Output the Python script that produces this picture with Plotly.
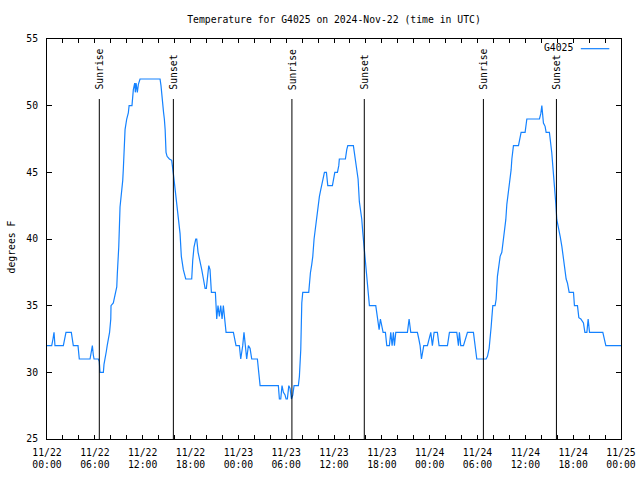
import pandas as pd
import plotly.graph_objects as go

# ---- data (hours after 2024-11-22 00:00 UTC, temperature in F) ----
hours = [0.00,0.59,0.75,0.88,1.0,2.05,2.38,3.05,3.15,3.3,3.89,4.05,5.4,5.55,5.69,5.81,5.9,6.44,6.56,6.65,7.07,7.15,7.3,7.45,7.55,7.7,7.85,8.0,8.03,8.32,8.53,8.75,8.82,9.0,9.16,9.37,9.5,9.58,9.65,9.79,10.0,10.2,10.3,10.66,10.83,11.0,11.08,11.17,11.33,11.46,11.67,14.18,14.3,14.39,14.51,14.62,14.72,14.82,14.93,15.06,15.35,15.64,15.85,15.94,16.06,16.27,16.48,16.69,16.85,17.1,17.4,18.15,18.28,18.44,18.66,18.78,18.95,19.2,19.41,19.62,19.83,19.99,20.12,20.29,20.45,20.62,21.12,21.29,21.45,21.62,21.79,21.96,22.12,22.33,22.46,23.38,23.59,23.71,24.13,24.3,24.55,24.71,24.88,25.05,25.26,25.47,25.68,26.39,26.56,26.73,29.02,29.15,29.32,29.48,29.65,29.86,29.99,30.15,30.33,30.49,30.66,30.83,30.99,31.53,31.66,31.83,31.96,32.08,32.83,32.91,33.04,33.21,33.34,33.5,33.63,33.84,34.04,34.17,34.34,34.5,34.67,34.8,35.05,35.22,35.8,35.97,36.1,36.43,36.6,36.67,37.43,37.6,37.73,38.43,38.64,38.85,39.02,39.18,39.36,39.48,39.61,39.74,39.86,40.02,40.19,40.36,40.44,41.24,41.36,41.53,41.66,41.82,42.0,42.16,42.45,42.62,42.95,43.12,43.29,43.45,43.58,43.75,45.21,45.42,45.63,46.46,46.64,46.8,46.97,47.14,47.26,47.72,47.93,48.14,48.34,48.56,48.97,49.18,50.23,50.48,51.4,51.61,51.73,51.9,52.24,52.54,52.74,53.49,53.7,53.91,55.08,55.25,55.46,55.58,55.71,55.8,55.92,56.21,56.34,56.5,56.71,56.84,57.05,57.25,57.38,57.55,57.68,57.8,57.97,58.09,58.22,58.31,58.43,58.51,59.14,59.31,59.47,59.97,60.19,61.77,61.94,62.07,62.15,62.27,62.48,62.61,63.02,63.2,63.32,63.45,63.61,63.74,63.83,63.95,64.15,64.37,64.58,64.78,64.99,65.12,65.28,65.5,66.04,66.16,66.54,66.71,66.96,67.29,67.47,67.72,67.88,68.05,69.72,69.89,70.1,72.0]
temps = [32,32,32.5,33,32,32,33,33,32.6,32,32,31,31,31.6,32,31.3,31,31,30.8,30,30,30.6,31,31.6,32,32.5,33,34,35,35.2,35.7,36.4,37.4,39.4,42.4,43.4,44.4,45.3,46.7,48.2,49,49.45,50,50,51.2,51.7,51,51.7,51,51.6,52,52,51.5,50.7,50.3,49.5,49,48.2,46.5,46.2,46,45.9,44.9,44.4,43.7,42.7,41.4,40.4,38.7,37.7,37,37,38.4,39.4,40,40,39,38.4,37.7,37,36.3,36.3,37,38,37.7,36,36,34,35,34.2,35,34,35,34,33,33,32.5,32,32,31,32,33,32,31,32,31.8,31,31,30,29,29,28,28,29,28.5,28.3,28,28,29,28.8,28,28.3,29,29,29.7,31.7,35.2,36,36,36.6,37.45,38.1,38.7,40,40.7,41.7,42.45,43.2,43.7,44.2,44.7,45,45,44,44,44.7,45,45,45.5,46,46,46.7,47,47,46.2,45.2,44.5,42.8,42.2,41.5,40.5,39.6,38.5,37.7,36.4,35.4,35,35,34.4,33.7,33.2,34,33.4,33,33,32,32,33,32,33,32,33,33,34,33,33,32.5,32,31,31.7,32,32,32.5,33,32,33,33,32,32,33,33,32,33,32,32,32.7,33,33,32,31,31,31.2,31.8,32.4,33.4,34.1,35,35,35.5,37.2,38,38.7,39,40,40.7,41.45,42.6,43.2,43.7,44.45,45.2,46,46.7,47,47,47.4,48,48,49,49,49.4,50,49.2,48.7,48.45,48,48,47.2,46.45,45.45,44.45,43.7,42.6,41.45,40.95,40.2,39.45,38.45,37.6,37,36.7,36,36,35,35,34.1,34,33.7,33,33,34,33,33,32.5,32,32]

sunrise_hours = [6.56, 30.72, 54.74]
sunset_hours = [15.85, 39.8, 63.9]

series_name = "G4025"
title_text = "Temperature for G4025 on 2024-Nov-22 (time in UTC)"
y_label = "degrees F"
start = pd.Timestamp("2024-11-22 00:00")
end = pd.Timestamp("2024-11-25 00:00")

times = [start + pd.Timedelta(hours=h) for h in hours]

FONT = "DejaVu Sans Mono"
FS = 9.75
LINE_COLOR = "#1482ff"

fig = go.Figure()
fig.add_trace(go.Scatter(x=times, y=temps, mode="lines", name=series_name,
                         line=dict(color=LINE_COLOR, width=1.2), showlegend=False,
                         hoverinfo="skip"))

shapes = []
annotations = []
for label, hrs in (("Sunrise", sunrise_hours), ("Sunset", sunset_hours)):
    for h in hrs:
        t = start + pd.Timedelta(hours=h)
        shapes.append(dict(type="line", xref="x", yref="paper", x0=t, x1=t, y0=0, y1=0.85,
                           line=dict(color="black", width=1)))
        annotations.append(dict(text=label, xref="x", yref="paper", x=t, y=0.868,
                                xanchor="center", yanchor="bottom", textangle=-90,
                                showarrow=False, font=dict(family=FONT, size=FS, color="black")))

# legend (text on the left, sample line on the right, as in the reference)
annotations.append(dict(text=series_name, xref="paper", yref="paper", x=0.92, y=0.979,
                        xanchor="right", yanchor="middle", showarrow=False,
                        font=dict(family=FONT, size=FS, color="black")))
shapes.append(dict(type="line", xref="paper", yref="paper", x0=0.930, x1=0.9796,
                   y0=0.9758, y1=0.9758, line=dict(color=LINE_COLOR, width=1.2)))

# y axis title
annotations.append(dict(text=y_label, xref="paper", yref="paper", x=-0.062, y=0.48,
                        xanchor="center", yanchor="middle", textangle=-90, showarrow=False,
                        font=dict(family=FONT, size=FS, color="black")))

fig.update_layout(
    width=640, height=480,
    margin=dict(l=47, r=19, t=39, b=41, autoexpand=False),
    paper_bgcolor="white", plot_bgcolor="white",
    font=dict(family=FONT, size=FS, color="black"),
    title=dict(text=title_text, x=(47 + 621) / 2 / 640, xanchor="center",
               y=1 - 20 / 480, yanchor="middle", yref="container", automargin=False,
               font=dict(family=FONT, size=FS, color="black")),
    shapes=shapes, annotations=annotations,
    showlegend=False, hovermode=False,
)
fig.update_xaxes(
    type="date", range=[start, end], automargin=False,
    dtick=6 * 3600 * 1000, tick0=start, tickformat="%m/%d<br>%H:%M",
    ticks="inside", ticklen=4, tickcolor="black", tickwidth=1,
    minor=dict(dtick=2 * 3600 * 1000, tick0=start, ticks="inside", ticklen=4,
               tickcolor="black", tickwidth=1, showgrid=False),
    showline=True, linecolor="black", linewidth=1, mirror="allticks",
    showgrid=False, zeroline=False, ticklabelstandoff=4,
)
fig.update_yaxes(
    range=[25, 55], dtick=5, tick0=25, automargin=False,
    ticks="inside", ticklen=5, tickcolor="black", tickwidth=1,
    showline=True, linecolor="black", linewidth=1, mirror="allticks",
    showgrid=False, zeroline=False, ticklabelstandoff=6,
)

fig.write_html("out.html", config={"displayModeBar": False},
               post_script="document.body.style.margin='0px';")
